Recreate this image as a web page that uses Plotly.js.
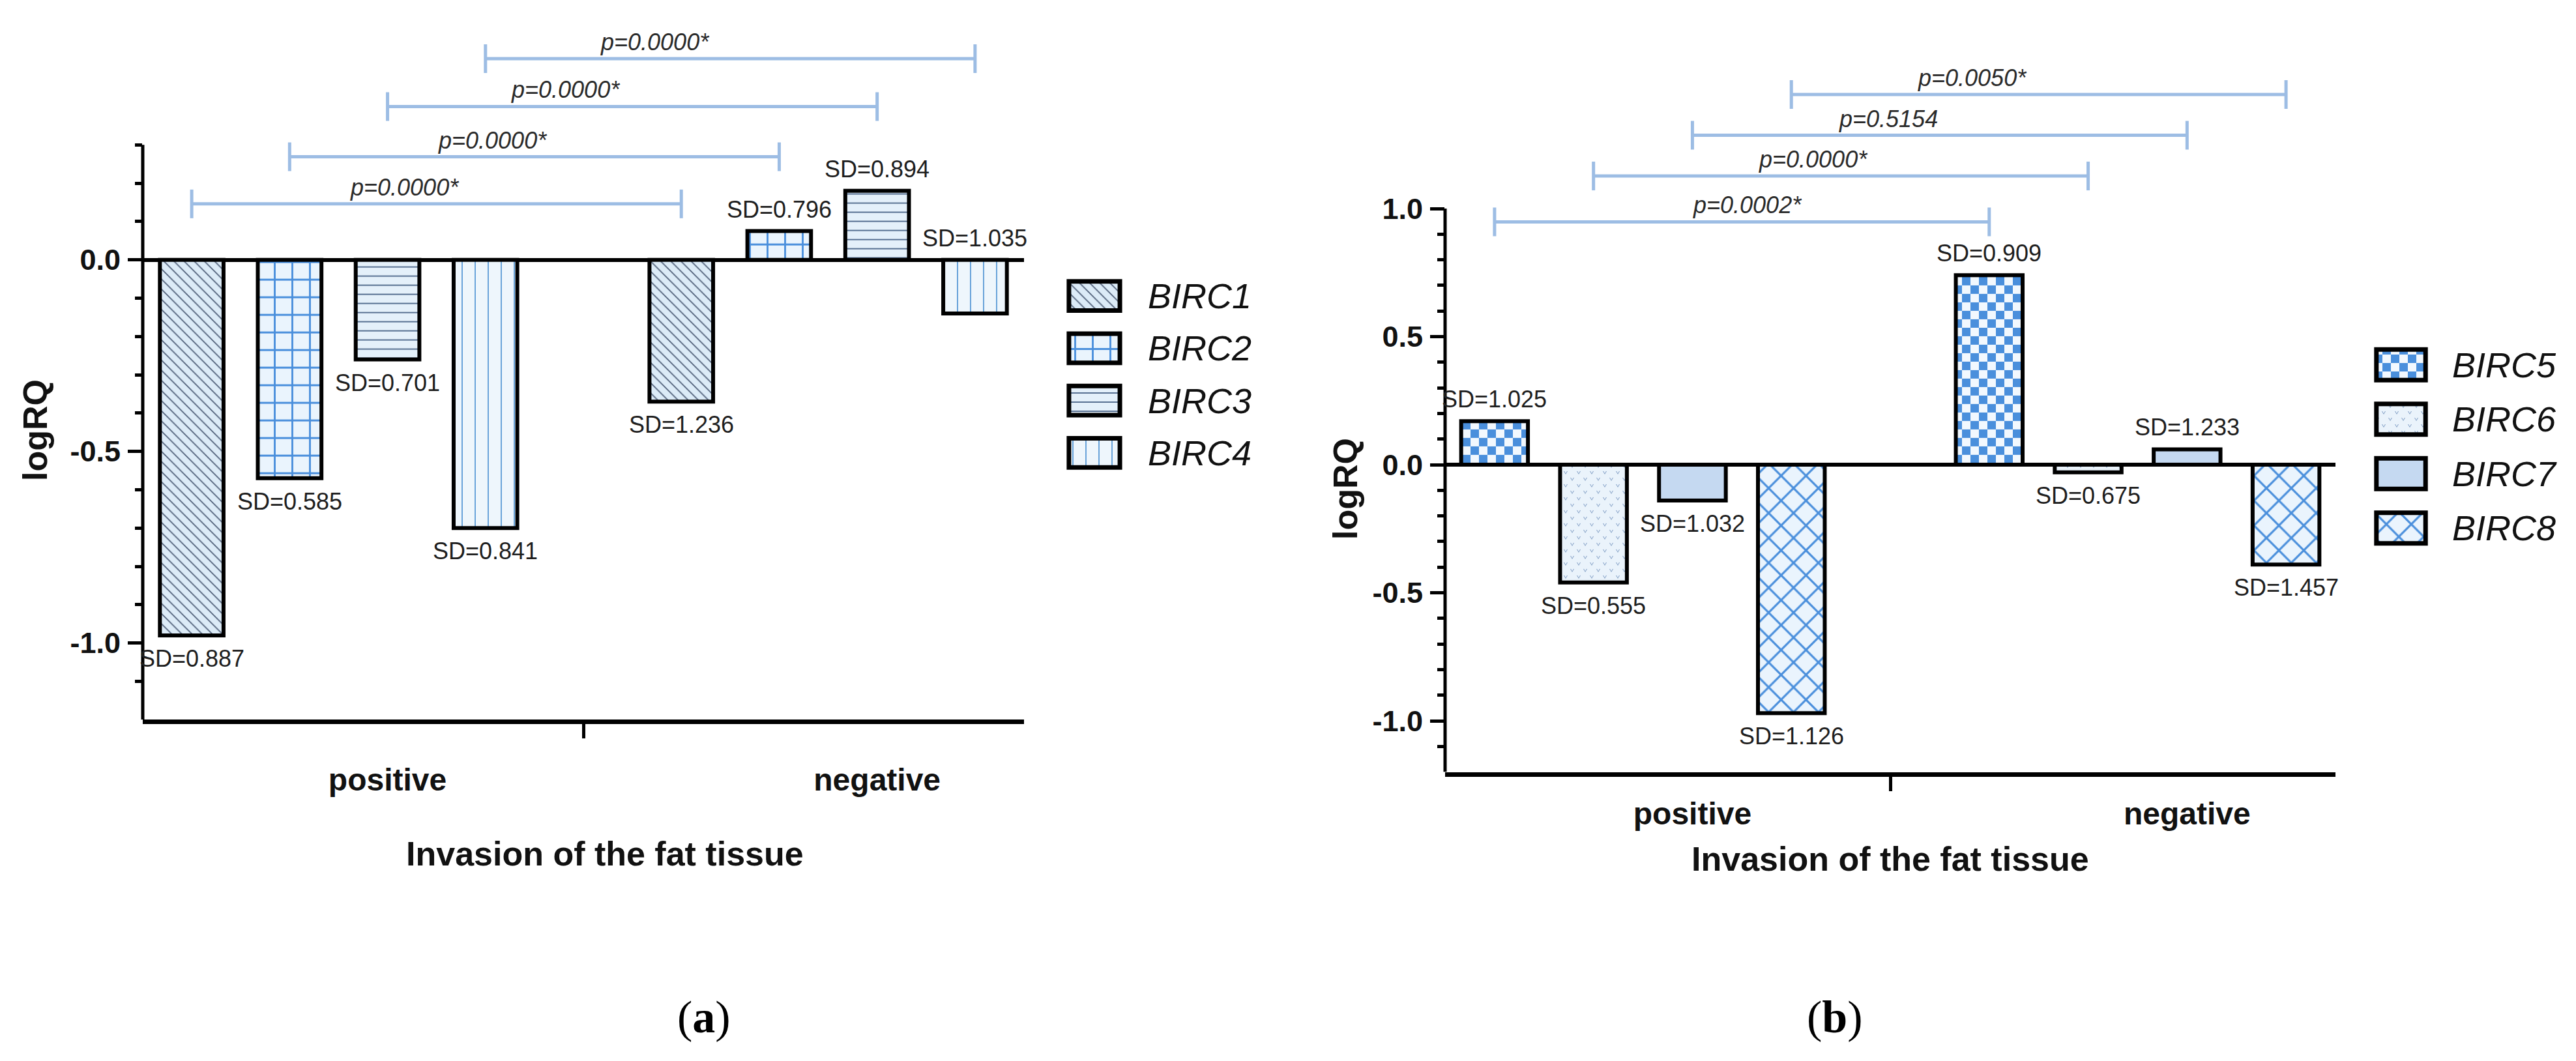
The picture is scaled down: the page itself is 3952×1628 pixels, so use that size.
<!DOCTYPE html>
<html>
<head>
<meta charset="utf-8">
<script src="https://cdn.plot.ly/plotly-3.0.1.min.js"></script>
<style>
html, body { margin: 0; padding: 0; background: #ffffff; }
#chart { width: 3952px; height: 1628px; }
</style>
</head>
<body>
<div id="chart"></div>
<script>
// ------------------------------------------------------------------ data
const groups = ['positive', 'negative'];
const xTitleText = 'Invasion of the fat tissue';
const yTitleText = 'logRQ';

// panel (a)
const seriesA = ['BIRC1', 'BIRC2', 'BIRC3', 'BIRC4'];
const birc1 = [-0.98, -0.37];
const birc2 = [-0.57, 0.075];
const birc3 = [-0.26, 0.18];
const birc4 = [-0.70, -0.14];
const sdBirc1 = [0.887, 1.236];
const sdBirc2 = [0.585, 0.796];
const sdBirc3 = [0.701, 0.894];
const sdBirc4 = [0.841, 1.035];
const pValuesA = ['p=0.0000*', 'p=0.0000*', 'p=0.0000*', 'p=0.0000*'];
const yTicksA = [-1.0, -0.5, 0.0];

// panel (b)
const seriesB = ['BIRC5', 'BIRC6', 'BIRC7', 'BIRC8'];
const birc5 = [0.17, 0.74];
const birc6 = [-0.46, -0.03];
const birc7 = [-0.14, 0.06];
const birc8 = [-0.97, -0.39];
const sdBirc5 = [1.025, 0.909];
const sdBirc6 = [0.555, 0.675];
const sdBirc7 = [1.032, 1.233];
const sdBirc8 = [1.126, 1.457];
const pValuesB = ['p=0.0002*', 'p=0.0000*', 'p=0.5154', 'p=0.0050*'];
const yTicksB = [-1.0, -0.5, 0.0, 0.5, 1.0];

// ------------------------------------------------------------------ styles / layout constants
const W = 3952, H = 1628;
const FONT = '"Liberation Sans", Arial, Helvetica, sans-serif';
const SERIF = '"Liberation Serif", "DejaVu Serif", serif';
const BRACKET = '#9dbde4';

const patternsA = [
  { shape: '\\', fgcolor: '#4f5f78', bgcolor: '#dcebf7', size: 11, solidity: 0.16 },
  { shape: '+', fgcolor: '#4a8fdc', bgcolor: '#eaf4fd', size: 27, solidity: 0.2 },
  { shape: '-', fgcolor: '#4a6488', bgcolor: '#e4f0fa', size: 14, solidity: 0.13 },
  { shape: '|', fgcolor: '#5a9ad6', bgcolor: '#eef6fc', size: 20, solidity: 0.09 }
];
const patternsB = [
  { path: 'M0,0H13V13H0Z M13,13H26V26H13Z', fgcolor: '#4a8fdc', bgcolor: '#f2f8fe', size: 26, solidity: 1 },
  { path: 'M2,3L5,8L8,3L7,3L5,6.4L3,3Z M12,13L15,18L18,13L17,13L15,16.4L13,13Z', fgcolor: '#7897c0', bgcolor: '#eaf3fb', size: 20, solidity: 1 },
  { shape: '' },
  { shape: 'x', fgcolor: '#4a8fdc', bgcolor: '#eaf4fd', size: 27, solidity: 0.22 }
];
const fallbackColorsA = ['#dcebf7', '#eaf4fd', '#e4f0fa', '#eef6fc'];
const fallbackColorsB = ['#7fb0e6', '#eaf3fb', '#c5d9f1', '#eaf4fd'];

const panels = [
  {
    key: 'a', series: seriesA, values: [birc1, birc2, birc3, birc4], sds: [sdBirc1, sdBirc2, sdBirc3, sdBirc4],
    pvals: pValuesA, yTicks: yTicksA, patterns: patternsA, colors: fallbackColorsA,
    left: 219, right: 1571, zeroY: 398.7, unit: 588, yMin: -1.2, yMax: 0.66, axisTop: 0.3, barW: 0.13,
    bracketY: [0.146, 0.269, 0.40, 0.525], pShift: [-0.066, -0.086, -0.137, -0.154],
    sdAtZero: [[3, 1]],
    legend: { left: 1636, right: 1722, top: 414, bottom: 735, standoff: 38 },
    catStandoff: 44, xTitle: { x: 928, y: 1310 }, yTitle: { x: 54, y: 660 },
    panelLabel: { x: 1080, y: 1560, text: '(<b>a</b>)' }
  },
  {
    key: 'b', series: seriesB, values: [birc5, birc6, birc7, birc8], sds: [sdBirc5, sdBirc6, sdBirc7, sdBirc8],
    pvals: pValuesB, yTicks: yTicksB, patterns: patternsB, colors: fallbackColorsB,
    left: 2217, right: 3583, zeroY: 713, unit: 393, yMin: -1.2, yMax: 1.56, axisTop: 1.0, barW: 0.135,
    bracketY: [0.948, 1.127, 1.286, 1.445], pShift: [0.011, -0.056, -0.104, -0.134],
    sdAtZero: [],
    legend: { left: 3642, right: 3725, top: 518, bottom: 852, standoff: 36 },
    catStandoff: 16, xTitle: { x: 2900, y: 1318 }, yTitle: { x: 2064, y: 750 },
    panelLabel: { x: 2815, y: 1560, text: '(<b>b</b>)' }
  }
];

// ------------------------------------------------------------------ build
const traces = [];
const shapes = [];
const annotations = [];
const layout = {
  width: W, height: H,
  margin: { l: 0, r: 0, t: 0, b: 0, pad: 0 },
  paper_bgcolor: '#ffffff', plot_bgcolor: 'rgba(0,0,0,0)',
  showlegend: false, hovermode: false,
  font: { family: FONT, color: '#111111' },
  bargap: 0
};

const offset = (i) => (i - 1.5) * 0.2;

panels.forEach((p, pi) => {
  const xa = pi === 0 ? 'x' : 'x2';
  const ya = pi === 0 ? 'y' : 'y2';
  const xl = pi === 0 ? 'x3' : 'x4';
  const yl = pi === 0 ? 'y3' : 'y4';
  const xKey = pi === 0 ? 'xaxis' : 'xaxis2';
  const yKey = pi === 0 ? 'yaxis' : 'yaxis2';
  const xlKey = pi === 0 ? 'xaxis3' : 'xaxis4';
  const ylKey = pi === 0 ? 'yaxis3' : 'yaxis4';

  const bottomPx = p.zeroY - p.yMin * p.unit;
  const topPx = p.zeroY - p.yMax * p.unit;

  layout[xKey] = {
    domain: [p.left / W, p.right / W], range: [-0.4, 1.4], anchor: ya,
    showline: true, linewidth: 7, linecolor: '#000000',
    showgrid: false, zeroline: false, automargin: false, fixedrange: true,
    tickmode: 'array', tickvals: groups.map((g, gi) => gi + 0.1), ticktext: groups,
    ticks: '', ticklabelstandoff: p.catStandoff,
    tickfont: { family: FONT, size: 48, weight: 'bold', color: '#111111' },
    minor: { tickmode: 'array', tickvals: [0.5], ticks: 'outside', ticklen: 22, tickwidth: 5, tickcolor: '#000000', showgrid: false }
  };
  const minorVals = [];
  for (let k = Math.round(p.yMin * 10) + 1; k <= Math.round(p.axisTop * 10); k++) minorVals.push(k / 10);
  layout[yKey] = {
    domain: [1 - bottomPx / H, 1 - topPx / H], range: [p.yMin, p.yMax], anchor: xa,
    showline: false, showgrid: false, automargin: false, fixedrange: true,
    zeroline: true, zerolinecolor: '#000000', zerolinewidth: 6,
    tickmode: 'array', tickvals: p.yTicks, ticktext: p.yTicks.map(v => v.toFixed(1)),
    ticks: 'outside', ticklen: 22, tickwidth: 5, tickcolor: '#000000', ticklabelstandoff: 2,
    tickfont: { family: FONT, size: 45, weight: 'bold', color: '#111111' },
    minor: { tickmode: 'array', tickvals: minorVals, ticks: 'outside', ticklen: 11, tickwidth: 5, tickcolor: '#000000', showgrid: false }
  };

  // y axis line only up to the last tick
  shapes.push({ type: 'line', xref: 'paper', yref: ya, x0: p.left / W, x1: p.left / W, y0: p.yMin, y1: p.axisTop,
    line: { color: '#000000', width: 5 }, layer: 'above' });

  // bars
  p.series.forEach((name, i) => {
    const pat = Object.assign({ fillmode: 'replace' }, p.patterns[i]);
    traces.push({
      type: 'bar', name: name, xaxis: xa, yaxis: ya,
      x: groups.map((g, gi) => gi + offset(i)), y: p.values[i], width: p.barW,
      marker: { color: p.colors[i], pattern: pat, line: { color: '#000000', width: 6 } },
      cliponaxis: false
    });
    // legend swatch as its own tiny subplot
    traces.push({
      type: 'bar', name: name, xaxis: xl, yaxis: yl, orientation: 'h',
      x: [1], y: [name], base: 0, width: 0.56,
      marker: { color: p.colors[i], pattern: pat, line: { color: '#000000', width: 7 } }
    });

    // SD labels
    p.values[i].forEach((v, gi) => {
      const atZero = p.sdAtZero.some(z => z[0] === i && z[1] === gi);
      const above = atZero || v >= 0;
      annotations.push({
        xref: xa, yref: ya, x: gi + offset(i), y: atZero ? 0 : v,
        text: 'SD=' + p.sds[i][gi].toFixed(3), showarrow: false,
        xanchor: 'center', yanchor: above ? 'bottom' : 'top', yshift: above ? 11 : -13,
        font: { family: FONT, size: 36, color: '#1e1e1e' }
      });
    });

    // significance brackets
    const x0 = offset(i), x1 = 1 + offset(i), yb = p.bracketY[i];
    shapes.push({ type: 'line', xref: xa, yref: ya, x0: x0, x1: x1, y0: yb, y1: yb, line: { color: BRACKET, width: 5 } });
    [x0, x1].forEach(xe => shapes.push({ type: 'line', xref: xa, yref: ya, x0: xe, x1: xe,
      ysizemode: 'pixel', yanchor: yb, y0: -22, y1: 22, line: { color: BRACKET, width: 5 } }));
    annotations.push({
      xref: xa, yref: ya, x: (x0 + x1) / 2 + p.pShift[i], y: yb, text: p.pvals[i], showarrow: false,
      xanchor: 'center', yanchor: 'bottom', yshift: 3,
      font: { family: FONT, size: 36, style: 'italic', color: '#2a2a2a' }
    });
  });

  // legend axes
  const lg = p.legend;
  layout[xlKey] = { domain: [lg.left / W, lg.right / W], range: [-0.05, 1.05], anchor: yl, visible: false, fixedrange: true };
  layout[ylKey] = {
    domain: [1 - lg.bottom / H, 1 - lg.top / H], anchor: xl, type: 'category',
    categoryorder: 'array', categoryarray: p.series, autorange: 'reversed', side: 'right',
    showline: false, showgrid: false, zeroline: false, ticks: '', automargin: false, fixedrange: true,
    ticklabelstandoff: lg.standoff,
    tickfont: { family: FONT, size: 54, style: 'italic', color: '#111111' }
  };

  // titles
  annotations.push({ xref: 'paper', yref: 'paper', x: p.xTitle.x / W, y: 1 - p.xTitle.y / H, text: xTitleText,
    showarrow: false, xanchor: 'center', yanchor: 'middle', font: { family: FONT, size: 52, weight: 'bold', color: '#111111' } });
  annotations.push({ xref: 'paper', yref: 'paper', x: p.yTitle.x / W, y: 1 - p.yTitle.y / H, text: yTitleText, textangle: -90,
    showarrow: false, xanchor: 'center', yanchor: 'middle', font: { family: FONT, size: 52, weight: 'bold', color: '#111111' } });
  annotations.push({ xref: 'paper', yref: 'paper', x: p.panelLabel.x / W, y: 1 - p.panelLabel.y / H, text: p.panelLabel.text,
    showarrow: false, xanchor: 'center', yanchor: 'middle', font: { family: SERIF, size: 70, color: '#000000' } });
});

layout.shapes = shapes;
layout.annotations = annotations;

Plotly.newPlot('chart', traces, layout, { staticPlot: true, displayModeBar: false });
</script>
</body>
</html>
